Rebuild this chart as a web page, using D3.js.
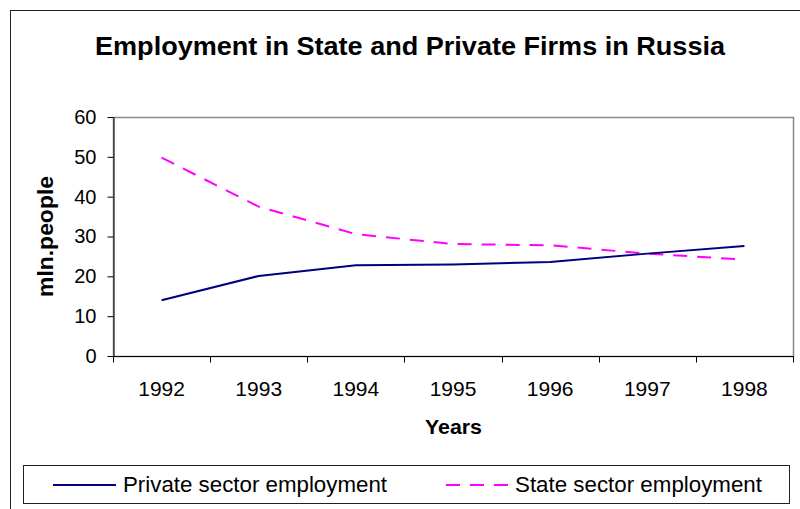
<!DOCTYPE html>
<html>
<head>
<meta charset="utf-8">
<script src="https://cdn.jsdelivr.net/npm/d3@7"></script>
<style>
  html, body { margin: 0; padding: 0; background: #fff; }
  svg { display: block; font-family: "Liberation Sans", Arial, sans-serif; }
</style>
</head>
<body>
<svg id="chart" width="800" height="509"></svg>
<script>
// Employment in Russia, million people
const years = ["1992", "1993", "1994", "1995", "1996", "1997", "1998"];
const privateSector = [14.0, 20.1, 22.8, 23.0, 23.6, 25.7, 27.6];
const stateSector = [49.8, 37.5, 30.6, 28.1, 27.8, 25.7, 24.2];
const yTicks = [0, 10, 20, 30, 40, 50, 60];

const svg = d3.select("#chart");
const W = 800, H = 509;

// outer chart frame (extends past the window on the right and bottom)
svg.append("rect")
  .attr("x", 10.5).attr("y", 10.5)
  .attr("width", W + 20).attr("height", H + 20)
  .attr("fill", "#fff").attr("stroke", "#222").attr("stroke-width", 1);

const plot = { left: 113, top: 117, right: 793, bottom: 356 };

const x = d3.scaleBand().domain(years).range([plot.left, plot.right]).padding(0);
const y = d3.scaleLinear().domain([0, 60]).range([plot.bottom, plot.top]);

// plot area border (grey top/right)
svg.append("rect")
  .attr("x", plot.left + 0.5).attr("y", plot.top + 0.5)
  .attr("width", plot.right - plot.left).attr("height", plot.bottom - plot.top)
  .attr("fill", "#fff").attr("stroke", "#888").attr("stroke-width", 1.5);

// y axis
const yAxis = svg.append("g")
  .attr("transform", `translate(${plot.left + 0.5},0)`)
  .call(d3.axisLeft(y).tickValues(yTicks).tickSize(6).tickPadding(11).tickSizeOuter(0));
yAxis.select(".domain").attr("stroke", "#000");
yAxis.selectAll(".tick line").attr("stroke", "#000");
yAxis.selectAll("text").attr("font-size", 20).attr("fill", "#000")
  .attr("font-family", "Liberation Sans, Arial, sans-serif");

// x axis: ticks at band boundaries, labels at band centres
const xAxisG = svg.append("g").attr("transform", `translate(0,${plot.bottom + 0.5})`);
xAxisG.append("line")
  .attr("x1", plot.left).attr("x2", plot.right + 1)
  .attr("stroke", "#000");
const boundaries = years.map(d => x(d)).concat([x(years[years.length - 1]) + x.bandwidth()]);
xAxisG.selectAll("line.tk").data(boundaries).join("line")
  .attr("class", "tk")
  .attr("x1", d => Math.round(d) + 0.5).attr("x2", d => Math.round(d) + 0.5)
  .attr("y1", 0).attr("y2", 6)
  .attr("stroke", "#000");
xAxisG.selectAll("text").data(years).join("text")
  .attr("x", d => x(d) + x.bandwidth() / 2)
  .attr("y", 39.5)
  .attr("text-anchor", "middle")
  .attr("font-size", 21)
  .text(d => d);

// lines
const line = d3.line()
  .x((d, i) => x(years[i]) + x.bandwidth() / 2)
  .y(d => y(d));

svg.append("path").datum(stateSector)
  .attr("d", line)
  .attr("fill", "none").attr("stroke", "#FF00FF")
  .attr("stroke-width", 2).attr("stroke-dasharray", "14,10");

svg.append("path").datum(privateSector)
  .attr("d", line)
  .attr("fill", "none").attr("stroke", "#000080")
  .attr("stroke-width", 2);

// title
svg.append("text")
  .attr("x", 95).attr("y", 55)
  .attr("font-size", 26).attr("font-weight", "bold")
  .attr("textLength", 630).attr("lengthAdjust", "spacingAndGlyphs")
  .text("Employment in State and Private Firms in Russia");

// axis titles
svg.append("text")
  .attr("x", 425).attr("y", 434)
  .attr("font-size", 21).attr("font-weight", "bold")
  .attr("textLength", 57).attr("lengthAdjust", "spacingAndGlyphs")
  .text("Years");

svg.append("text")
  .attr("transform", `translate(53,297) rotate(-90)`)
  .attr("font-size", 22).attr("font-weight", "bold")
  .attr("textLength", 121).attr("lengthAdjust", "spacingAndGlyphs")
  .text("mln.people");

// legend
const lg = svg.append("g");
lg.append("rect")
  .attr("x", 23.5).attr("y", 465.5).attr("width", 766).attr("height", 38)
  .attr("fill", "#fff").attr("stroke", "#222").attr("stroke-width", 1);

const legendItems = [
  { label: "Private sector employment", color: "#000080", dash: null, x0: 53, tx: 123, len: 264 },
  { label: "State sector employment", color: "#FF00FF", dash: "14,10", x0: 446, tx: 515, len: 247 }
];
legendItems.forEach(it => {
  lg.append("line")
    .attr("x1", it.x0).attr("x2", it.x0 + 63)
    .attr("y1", 485).attr("y2", 485)
    .attr("stroke", it.color).attr("stroke-width", 2)
    .attr("stroke-dasharray", it.dash);
  lg.append("text")
    .attr("x", it.tx).attr("y", 492)
    .attr("font-size", 22)
    .attr("textLength", it.len).attr("lengthAdjust", "spacingAndGlyphs")
    .text(it.label);
});
</script>
</body>
</html>
